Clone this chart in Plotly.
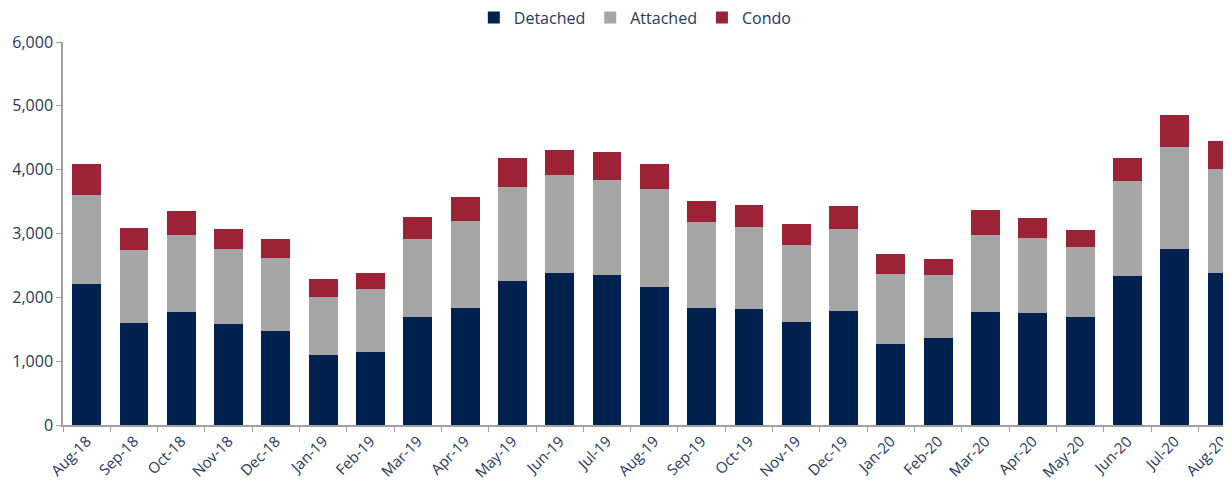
import plotly.graph_objects as go

months = ["Aug-18", "Sep-18", "Oct-18", "Nov-18", "Dec-18", "Jan-19", "Feb-19", "Mar-19",
          "Apr-19", "May-19", "Jun-19", "Jul-19", "Aug-19", "Sep-19", "Oct-19", "Nov-19",
          "Dec-19", "Jan-20", "Feb-20", "Mar-20", "Apr-20", "May-20", "Jun-20", "Jul-20", "Aug-20"]
detached = [2210, 1600, 1770, 1585, 1470, 1100, 1150, 1690,
            1840, 2255, 2380, 2345, 2165, 1840, 1820, 1615,
            1790, 1265, 1370, 1775, 1755, 1690, 2330, 2755, 2385]
attached = [1390, 1140, 1205, 1175, 1150, 910, 980, 1220,
            1355, 1475, 1540, 1490, 1535, 1340, 1285, 1205,
            1285, 1100, 980, 1200, 1170, 1100, 1490, 1605, 1620]
condo = [485, 350, 385, 315, 290, 275, 250, 350,
         370, 460, 385, 440, 385, 335, 340, 325,
         355, 310, 250, 400, 320, 270, 370, 490, 440]
y_ticks = [0, 1000, 2000, 3000, 4000, 5000, 6000]

NAVY = "#00214E"
GREY = "#A6A6A6"
RED = "#9B2335"
TEXT = "#1F3864"

fig = go.Figure()
for name, vals, col in [("Detached", detached, NAVY), ("Attached", attached, GREY), ("Condo", condo, RED)]:
    fig.add_trace(go.Bar(x=months, y=vals, name=name, marker=dict(color=col, line=dict(width=0))))

# page has an 8px body margin: offset figure margins accordingly
fig.update_layout(
    barmode="stack",
    bargap=0.39,
    width=1231, height=488,
    margin=dict(l=55, r=8, t=34, b=71, autoexpand=False),
    paper_bgcolor="white", plot_bgcolor="white",
    font=dict(family="Open Sans", size=15, color=TEXT),
    legend=dict(orientation="h", x=0.49, xanchor="center", y=1.064, yanchor="middle",
                font=dict(size=16, color=TEXT), traceorder="normal", itemwidth=30),
    showlegend=True,
)
fig.update_xaxes(
    type="category", range=[-0.5, 24.19], automargin=False,
    showline=True, linecolor="#A0A0A0", linewidth=1.5,
    ticks="outside", ticklen=5, tickcolor="#A0A0A0", tickson="boundaries",
    tickangle=-45, tickfont=dict(size=15, color=TEXT), showgrid=False,
)
fig.update_yaxes(
    range=[0, 6000], tickvals=y_ticks, tickformat=",d", automargin=False,
    showline=True, linecolor="#A0A0A0", linewidth=1.5,
    ticks="outside", ticklen=5, tickcolor="#A0A0A0",
    tickfont=dict(size=16, color=TEXT), showgrid=False, zeroline=False,
)
fig.write_html("out.html")
